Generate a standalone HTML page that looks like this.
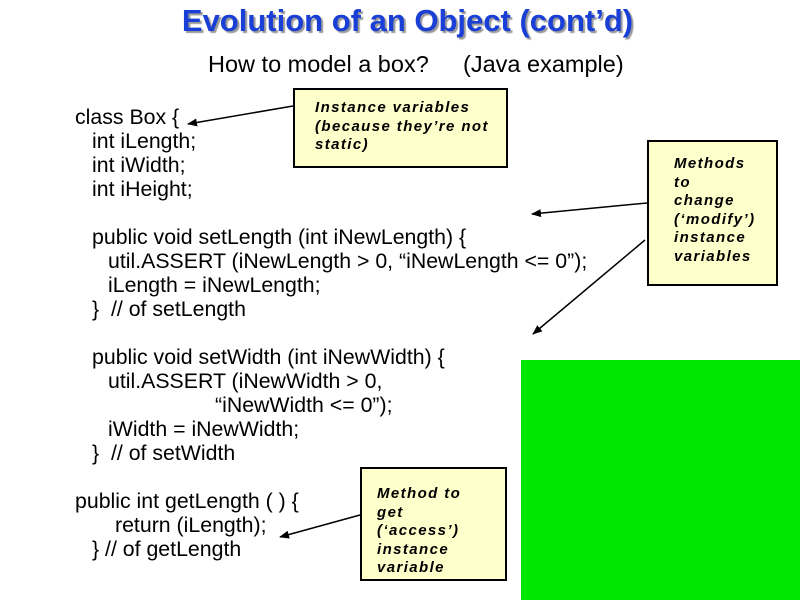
<!DOCTYPE html>
<html><head><style>
body{margin:0;width:800px;height:600px;background:#fff;position:relative;overflow:hidden;font-family:"Liberation Sans",Arial,sans-serif}
.t{position:absolute;white-space:pre;font-size:21.3px;color:#000;line-height:22px}
.n{position:absolute;background:#ffffcc;border:2px solid #000;box-sizing:border-box;font-weight:bold;font-style:italic;font-size:15px;line-height:18.5px;padding-left:20px;letter-spacing:1.4px;white-space:nowrap}
</style></head><body>
<div style="position:absolute;left:0;width:815px;top:3px;text-align:center;font-size:31px;font-weight:bold;color:#1a3fd6;text-shadow:2px 2px 1px #999">Evolution of an Object (cont’d)</div>
<div class="t" style="left:208px;top:53px;font-size:23.5px">How to model a box?</div>
<div class="t" style="left:463px;top:53px;font-size:23.5px">(Java example)</div>
<div class="t" style="left:75px;top:106px">class Box {</div>
<div class="t" style="left:92px;top:130px">int iLength;</div>
<div class="t" style="left:92px;top:154px">int iWidth;</div>
<div class="t" style="left:92px;top:178px">int iHeight;</div>
<div class="t" style="left:92px;top:226px">public void setLength (int iNewLength) {</div>
<div class="t" style="left:108px;top:250px">util.ASSERT (iNewLength &gt; 0, “iNewLength &lt;= 0”);</div>
<div class="t" style="left:108px;top:274px">iLength = iNewLength;</div>
<div class="t" style="left:92px;top:298px">}  // of setLength</div>
<div class="t" style="left:92px;top:346px">public void setWidth (int iNewWidth) {</div>
<div class="t" style="left:108px;top:370px">util.ASSERT (iNewWidth &gt; 0,</div>
<div class="t" style="left:215px;top:394px">“iNewWidth &lt;= 0”);</div>
<div class="t" style="left:108px;top:418px">iWidth = iNewWidth;</div>
<div class="t" style="left:92px;top:442px">}  // of setWidth</div>
<div class="t" style="left:75px;top:490px">public int getLength ( ) {</div>
<div class="t" style="left:115px;top:514px">return (iLength);</div>
<div class="t" style="left:92px;top:538px">} // of getLength</div>
<div class="n" style="left:293px;top:88px;width:215px;height:80px;padding-top:9px">Instance variables<br>(because they’re not<br>static)</div>
<div class="n" style="left:647px;top:140px;width:131px;height:146px;padding-top:13px;padding-left:25px">Methods<br>to<br>change<br>(‘modify’)<br>instance<br>variables</div>
<div class="n" style="left:360px;top:467px;width:147px;height:114px;padding-top:16px;padding-left:15px">Method to<br>get<br>(‘access’)<br>instance<br>variable</div>
<div style="position:absolute;left:521px;top:360px;width:279px;height:240px;background:#00e800"></div>
<svg width="800" height="600" style="position:absolute;left:0;top:0">
<defs><marker id="a" markerWidth="10" markerHeight="8" refX="9" refY="4" orient="auto" markerUnits="userSpaceOnUse"><path d="M0,0L10,4L0,8z" fill="#000"/></marker></defs>
<g stroke="#000" stroke-width="1.5" marker-end="url(#a)">
<line x1="293" y1="106" x2="188" y2="124"/>
<line x1="647" y1="203" x2="532" y2="214"/>
<line x1="645" y1="240" x2="533" y2="334"/>
<line x1="360" y1="515" x2="280" y2="537"/>
</g></svg>
</body></html>
